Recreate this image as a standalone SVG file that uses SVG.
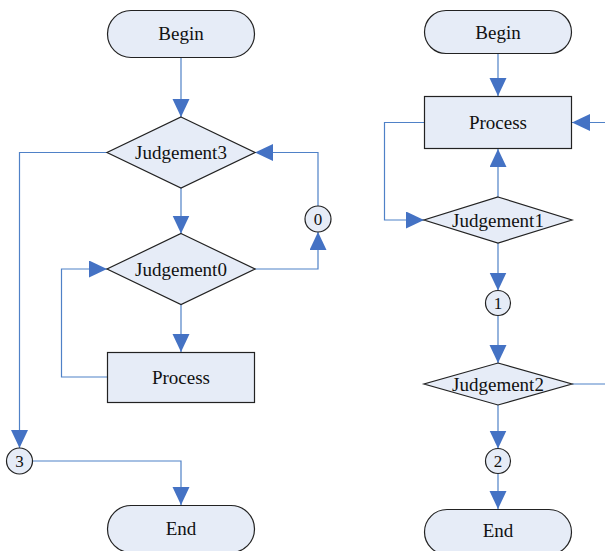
<svg xmlns="http://www.w3.org/2000/svg" width="605" height="551" viewBox="0 0 605 551">
<style>
.n{fill:#E6ECF7;stroke:#222;stroke-width:1.2}
.e{fill:none;stroke:#4F81C7;stroke-width:1.2}
text{font-family:"Liberation Serif","Times New Roman",serif !important}
</style>
<defs>
<marker id="ah" markerUnits="userSpaceOnUse" markerWidth="19" markerHeight="18" refX="18" refY="8.5" orient="auto" viewBox="0 0 19 18">
<path d="M0,0 L18,8.5 L0,17 Z" fill="#4472C4"/>
</marker>
</defs>
<rect width="605" height="551" fill="#fff"/>
<g id="connectors">
<path class="e" d="M181,57 V117" marker-end="url(#ah)"/>
<path class="e" d="M181,187 V233.5" marker-end="url(#ah)"/>
<path class="e" d="M181,304.5 V352" marker-end="url(#ah)"/>
<path class="e" d="M107,377 H61.5 V269 H107" marker-end="url(#ah)"/>
<path class="e" d="M255,269 H318 V232" marker-end="url(#ah)"/>
<path class="e" d="M318,206 V152.5 H255" marker-end="url(#ah)"/>
<path class="e" d="M107,152.5 H19.5 V448" marker-end="url(#ah)"/>
<path class="e" d="M32.5,461 H181 V505" marker-end="url(#ah)"/>
<path class="e" d="M498,53 V96" marker-end="url(#ah)"/>
<path class="e" d="M424,122.5 H384.5 V220 H424" marker-end="url(#ah)"/>
<path class="e" d="M498,197 V149" marker-end="url(#ah)"/>
<path class="e" d="M498,243 V290.5" marker-end="url(#ah)"/>
<path class="e" d="M498,315.5 V363" marker-end="url(#ah)"/>
<path class="e" d="M606,122.5 H572" marker-end="url(#ah)"/>
<path class="e" d="M572,384 H606"/>
<path class="e" d="M498,405 V448.5" marker-end="url(#ah)"/>
<path class="e" d="M498,473.5 V509" marker-end="url(#ah)"/>
</g>
<g font-family="Liberation Serif" font-size="19" fill="#111" text-anchor="middle">
<g id="begin-left"><rect class="n" x="107.5" y="10.5" width="147" height="47" rx="23.5"/><text x="181" y="40">Begin</text></g>
<g id="judgement3"><path class="n" d="M181,117 L255,152.5 L181,188 L107,152.5 Z"/><text x="181" y="159">Judgement3</text></g>
<g id="judgement0"><path class="n" d="M181,233.5 L255,269 L181,304.5 L107,269 Z"/><text x="181" y="275.5">Judgement0</text></g>
<g id="process-left"><rect class="n" x="107.5" y="352.5" width="147" height="50"/><text x="181" y="384">Process</text></g>
<g id="conn0"><circle class="n" cx="318" cy="219" r="13"/><text font-size="17" x="318" y="225">0</text></g>
<g id="conn3"><circle class="n" cx="19.5" cy="461" r="13"/><text font-size="17" x="19.5" y="467">3</text></g>
<g id="end-left"><rect class="n" x="107.5" y="505.5" width="147" height="47" rx="23.5"/><text x="181" y="535">End</text></g>
<g id="begin-right"><rect class="n" x="424.5" y="10.5" width="147" height="43" rx="21.5"/><text x="498" y="38.5">Begin</text></g>
<g id="process-right"><rect class="n" x="424.5" y="96.5" width="147" height="52"/><text x="498" y="129">Process</text></g>
<g id="judgement1"><path class="n" d="M498,197 L572,220 L498,243 L424,220 Z"/><text x="498" y="226.5">Judgement1</text></g>
<g id="conn1"><circle class="n" cx="498" cy="303" r="12.5"/><text font-size="17" x="498" y="309">1</text></g>
<g id="judgement2"><path class="n" d="M498,363 L572,384 L498,405 L424,384 Z"/><text x="498" y="390.5">Judgement2</text></g>
<g id="conn2"><circle class="n" cx="498" cy="461" r="12.5"/><text font-size="17" x="498" y="467">2</text></g>
<g id="end-right"><rect class="n" x="424.5" y="509.5" width="147" height="45" rx="22.5"/><text x="498" y="537">End</text></g>
</g>
</svg>
